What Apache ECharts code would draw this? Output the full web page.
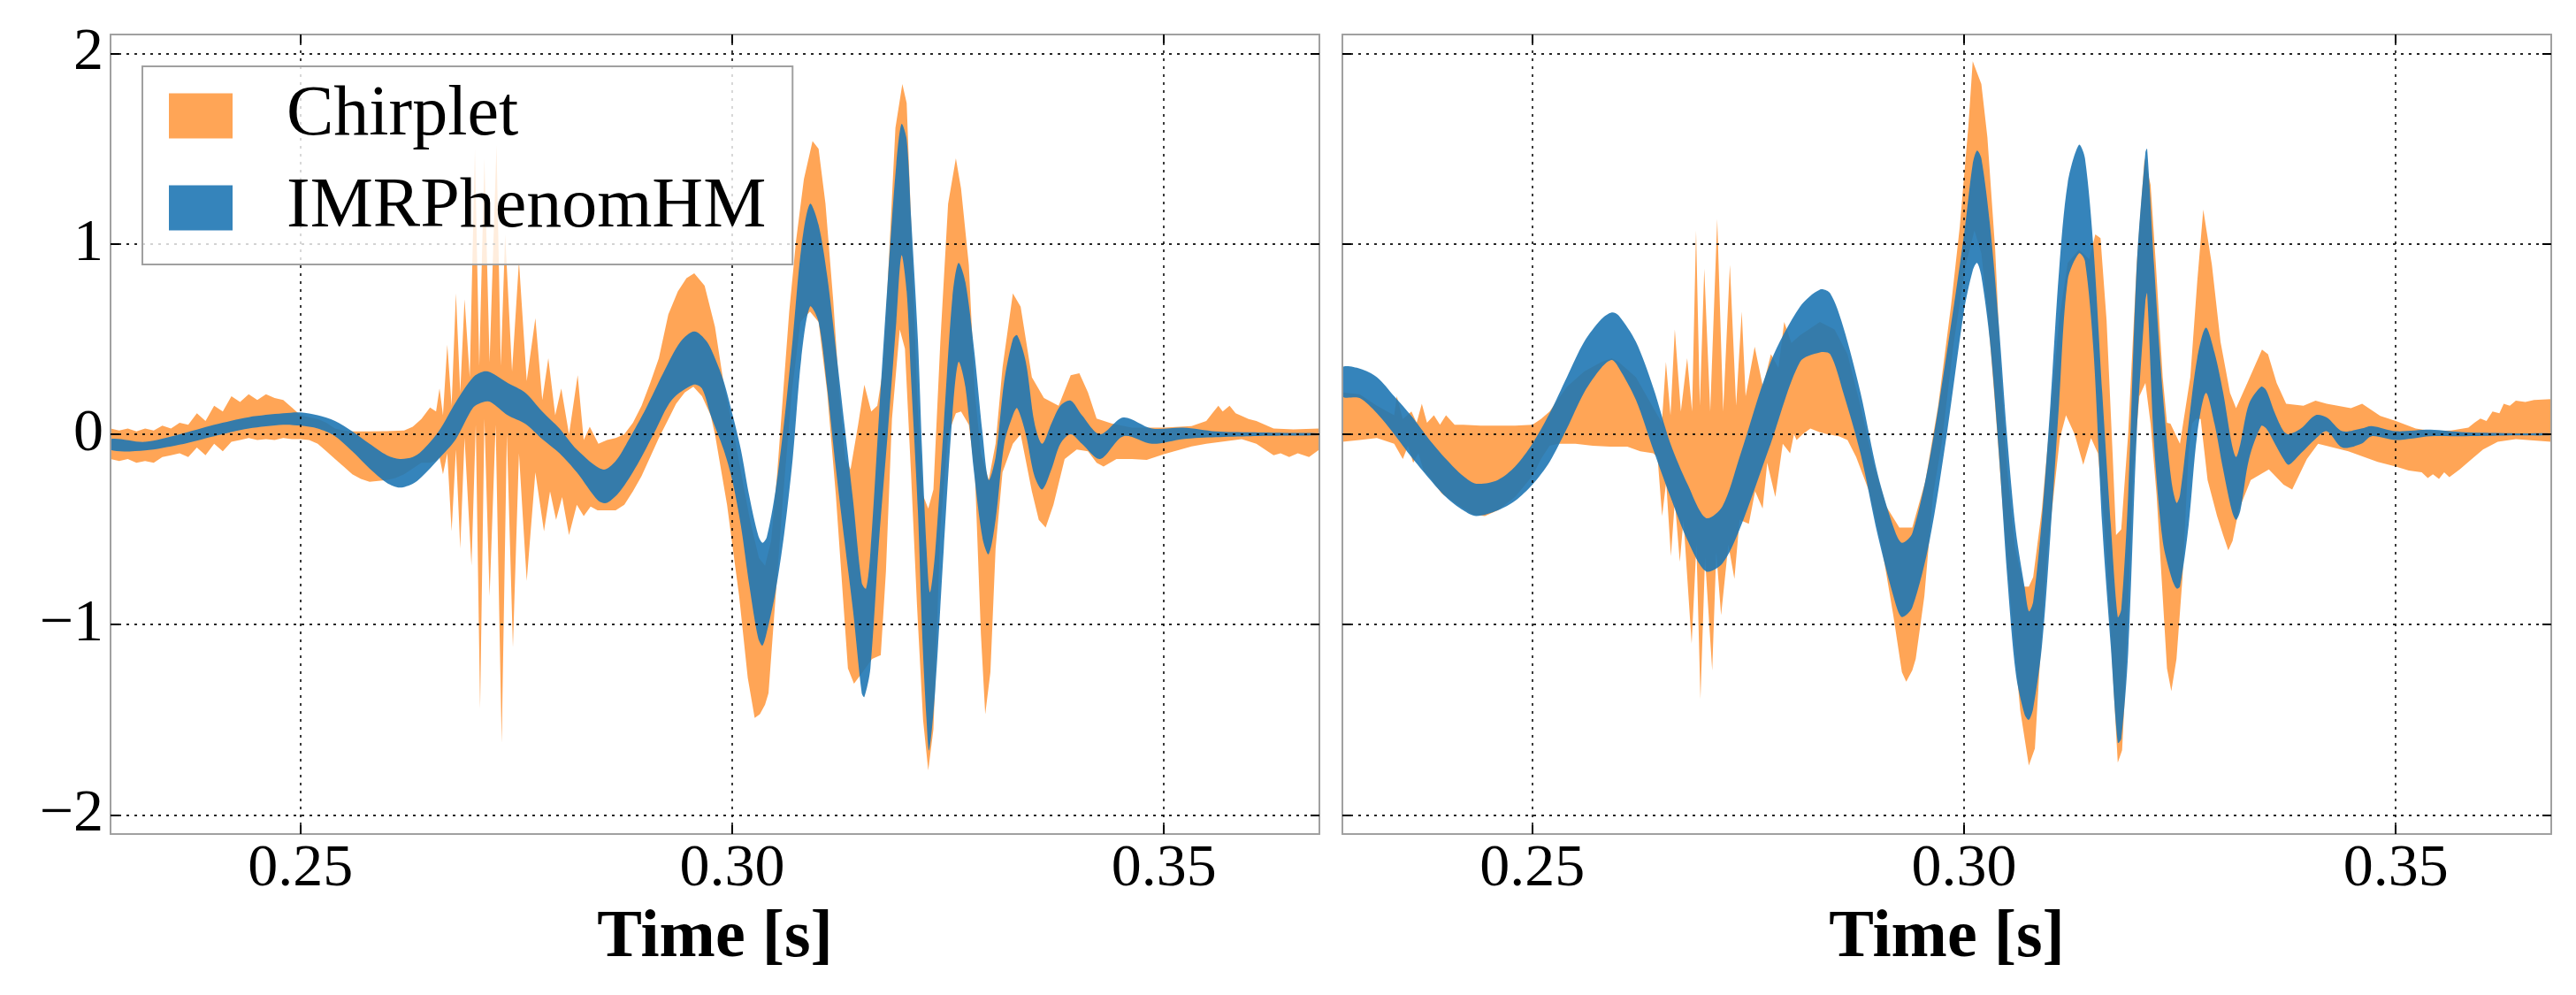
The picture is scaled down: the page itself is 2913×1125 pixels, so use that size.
<!DOCTYPE html>
<html><head><meta charset="utf-8">
<script src="https://cdn.jsdelivr.net/npm/echarts@6/dist/echarts.min.js"></script>
<style>html,body{margin:0;padding:0;background:#fff}#c{width:2913px;height:1125px}</style>
</head><body><div id="c"></div>
<script>
const seriesNames = ['Chirplet', 'IMRPhenomHM'];
const timeTicks = [0.25, 0.30, 0.35];
const ampTicks = [-2, -1, 0, 1, 2];
const timeRange = [0.228, 0.368];
const ampRange = [-2.1, 2.1];
const xTitle = 'Time [s]';

// ---------- Left panel ----------
const leftChirpUpper = [[0.228,0.03],[0.229,0.02],[0.230,0.03],[0.231,0.015],[0.232,0.03],[0.233,0.02],[0.234,0.045],[0.235,0.03],[0.236,0.06],[0.237,0.05],[0.238,0.11],[0.239,0.07],[0.240,0.15],[0.241,0.12],[0.242,0.20],[0.243,0.17],[0.244,0.21],[0.245,0.18],[0.246,0.21],[0.247,0.19],[0.248,0.18],[0.249,0.14],[0.250,0.10],[0.251,0.09],[0.252,0.08],[0.253,0.06],[0.254,0.03],[0.255,0.02],[0.256,0.015],[0.258,0.015],[0.260,0.016],[0.262,0.02],[0.263,0.04],[0.264,0.08],[0.265,0.14],[0.2657,0.12],[0.2661,0.24],[0.2665,0.10],[0.2670,0.47],[0.2675,0.15],[0.2680,0.74],[0.2685,0.22],[0.2690,0.71],[0.2696,0.30],[0.2702,1.50],[0.2707,0.36],[0.2713,1.45],[0.2719,0.38],[0.2727,1.52],[0.2732,0.36],[0.2737,1.05],[0.2745,0.33],[0.2753,0.91],[0.2762,0.28],[0.2772,0.61],[0.2780,0.18],[0.2787,0.40],[0.2795,0.10],[0.2802,0.24],[0.2811,0.0],[0.2821,0.31],[0.2828,-0.03],[0.2835,0.04],[0.2845,-0.05],[0.2855,-0.03],[0.2865,-0.02],[0.2875,0.0],[0.2885,0.06],[0.2895,0.15],[0.2905,0.27],[0.2915,0.40],[0.2926,0.63],[0.2937,0.75],[0.2947,0.82],[0.2956,0.846],[0.2968,0.78],[0.298,0.565],[0.299,0.27],[0.300,0.05],[0.3011,-0.22],[0.3021,-0.46],[0.3031,-0.65],[0.3038,-0.69],[0.3045,-0.56],[0.3052,-0.21],[0.3059,0.22],[0.3066,0.645],[0.3074,1.02],[0.3083,1.34],[0.3093,1.54],[0.3100,1.50],[0.3108,1.21],[0.3117,0.70],[0.3124,0.22],[0.3131,-0.13],[0.3137,-0.185],[0.3146,0.056],[0.3153,0.26],[0.3161,0.12],[0.3168,0.15],[0.3175,0.35],[0.3182,0.97],[0.3189,1.61],[0.3197,1.84],[0.3202,1.74],[0.3207,1.13],[0.3214,0.22],[0.3221,-0.32],[0.3227,-0.39],[0.3233,-0.29],[0.3241,0.485],[0.3250,1.21],[0.3259,1.45],[0.3265,1.29],[0.3274,0.89],[0.3281,0.22],[0.3288,-0.10],[0.3297,-0.24],[0.3305,-0.05],[0.3313,0.35],[0.3325,0.74],[0.3334,0.67],[0.3347,0.30],[0.3361,0.19],[0.3378,0.15],[0.3392,0.31],[0.3402,0.32],[0.3412,0.22],[0.3422,0.083],[0.344,0.056],[0.3463,0.035],[0.350,0.035],[0.3532,0.043],[0.3549,0.07],[0.3556,0.11],[0.3563,0.15],[0.3568,0.12],[0.3576,0.15],[0.3583,0.11],[0.359,0.096],[0.3598,0.08],[0.3607,0.07],[0.3627,0.03],[0.365,0.025],[0.368,0.03]];
const leftChirpLower = [[0.228,-0.13],[0.229,-0.14],[0.230,-0.13],[0.231,-0.15],[0.232,-0.14],[0.233,-0.15],[0.234,-0.12],[0.235,-0.11],[0.236,-0.10],[0.237,-0.12],[0.238,-0.07],[0.239,-0.11],[0.240,-0.05],[0.241,-0.09],[0.242,-0.04],[0.243,-0.03],[0.244,-0.02],[0.245,-0.03],[0.246,-0.025],[0.247,-0.03],[0.248,-0.02],[0.249,-0.025],[0.250,-0.025],[0.251,-0.03],[0.252,-0.05],[0.253,-0.09],[0.254,-0.13],[0.255,-0.17],[0.256,-0.21],[0.257,-0.235],[0.258,-0.25],[0.259,-0.245],[0.260,-0.24],[0.261,-0.23],[0.262,-0.21],[0.263,-0.18],[0.264,-0.15],[0.265,-0.15],[0.2657,-0.14],[0.2661,-0.12],[0.2665,-0.21],[0.2670,-0.10],[0.2675,-0.51],[0.2680,-0.08],[0.2685,-0.60],[0.2690,-0.02],[0.2698,-0.69],[0.2703,0.05],[0.2708,-1.44],[0.2713,0.08],[0.2719,-0.85],[0.2726,0.05],[0.2733,-1.62],[0.2739,0.0],[0.2746,-1.12],[0.2753,-0.10],[0.2762,-0.77],[0.2772,-0.20],[0.2782,-0.51],[0.2789,-0.30],[0.2796,-0.45],[0.2803,-0.33],[0.2811,-0.53],[0.2820,-0.37],[0.2828,-0.43],[0.2836,-0.38],[0.2844,-0.40],[0.2855,-0.40],[0.2865,-0.40],[0.2875,-0.37],[0.2885,-0.30],[0.2895,-0.22],[0.2905,-0.12],[0.2915,-0.02],[0.2925,0.07],[0.2935,0.16],[0.2945,0.22],[0.2955,0.25],[0.2965,0.20],[0.2975,0.10],[0.298,0.0],[0.2994,-0.37],[0.3008,-0.85],[0.3018,-1.28],[0.3026,-1.49],[0.3032,-1.47],[0.3038,-1.42],[0.3042,-1.36],[0.3048,-0.99],[0.3059,-0.32],[0.3069,0.22],[0.3079,0.59],[0.3090,0.645],[0.3100,0.59],[0.3110,0.22],[0.3120,-0.32],[0.3134,-1.23],[0.3141,-1.31],[0.3151,-1.25],[0.3162,-1.18],[0.3172,-1.16],[0.3178,-0.72],[0.3185,0.08],[0.3194,0.55],[0.3200,0.45],[0.3207,-0.20],[0.3214,-0.90],[0.3221,-1.50],[0.3227,-1.765],[0.3233,-1.55],[0.3241,-0.50],[0.3250,0.0],[0.3259,0.11],[0.3265,0.12],[0.3274,0.05],[0.3281,-0.20],[0.3288,-1.05],[0.3293,-1.47],[0.3299,-1.25],[0.3305,-0.60],[0.3313,-0.20],[0.3325,-0.05],[0.3334,0.0],[0.3347,-0.30],[0.3355,-0.45],[0.3363,-0.49],[0.3372,-0.37],[0.3385,-0.13],[0.3399,-0.08],[0.3412,-0.09],[0.3422,-0.15],[0.3430,-0.17],[0.3445,-0.13],[0.3463,-0.13],[0.348,-0.135],[0.350,-0.105],[0.3532,-0.064],[0.3549,-0.05],[0.359,-0.025],[0.3607,-0.05],[0.3620,-0.09],[0.3627,-0.11],[0.3635,-0.10],[0.3645,-0.12],[0.3655,-0.10],[0.3668,-0.12],[0.368,-0.08]];
const leftIMRUpper = [[0.228,-0.025],[0.232,-0.04],[0.236,0.0],[0.240,0.05],[0.244,0.09],[0.248,0.11],[0.250,0.115],[0.252,0.10],[0.254,0.07],[0.256,0.015],[0.258,-0.05],[0.260,-0.11],[0.2615,-0.13],[0.263,-0.12],[0.264,-0.09],[0.266,0.015],[0.268,0.17],[0.270,0.30],[0.2712,0.33],[0.272,0.325],[0.274,0.27],[0.276,0.22],[0.278,0.12],[0.280,0.03],[0.282,-0.08],[0.285,-0.185],[0.2865,-0.14],[0.288,-0.03],[0.290,0.135],[0.292,0.32],[0.294,0.485],[0.2956,0.54],[0.297,0.49],[0.298,0.40],[0.299,0.28],[0.300,0.11],[0.301,-0.08],[0.302,-0.33],[0.303,-0.53],[0.3035,-0.57],[0.304,-0.54],[0.305,-0.30],[0.306,0.06],[0.307,0.50],[0.308,0.98],[0.309,1.21],[0.310,1.10],[0.311,0.83],[0.312,0.45],[0.313,0.05],[0.314,-0.35],[0.315,-0.78],[0.3155,-0.81],[0.316,-0.62],[0.317,0.10],[0.318,0.80],[0.319,1.42],[0.3196,1.63],[0.3202,1.55],[0.3207,1.15],[0.3215,0.50],[0.322,-0.10],[0.3225,-0.60],[0.3229,-0.83],[0.3235,-0.62],[0.3245,0.05],[0.3255,0.72],[0.3262,0.90],[0.327,0.80],[0.328,0.45],[0.329,0.0],[0.3297,-0.24],[0.3305,-0.12],[0.3315,0.28],[0.3325,0.50],[0.333,0.52],[0.334,0.38],[0.335,0.06],[0.3359,-0.05],[0.337,0.06],[0.338,0.15],[0.3392,0.177],[0.3405,0.10],[0.3426,0.0],[0.3453,0.088],[0.3486,0.03],[0.3522,0.035],[0.356,0.015],[0.360,0.01],[0.364,0.007],[0.368,0.005]];
const leftIMRLower = [[0.228,-0.083],[0.232,-0.085],[0.236,-0.055],[0.240,-0.01],[0.244,0.03],[0.248,0.05],[0.250,0.045],[0.252,0.03],[0.254,-0.01],[0.256,-0.09],[0.258,-0.18],[0.260,-0.255],[0.2615,-0.28],[0.263,-0.26],[0.264,-0.225],[0.266,-0.13],[0.268,-0.025],[0.270,0.14],[0.2712,0.17],[0.272,0.17],[0.274,0.10],[0.276,0.056],[0.278,-0.025],[0.280,-0.10],[0.282,-0.20],[0.2845,-0.35],[0.2855,-0.36],[0.287,-0.30],[0.289,-0.16],[0.291,0.01],[0.293,0.18],[0.2955,0.26],[0.2965,0.24],[0.2975,0.10],[0.299,-0.08],[0.300,-0.24],[0.301,-0.48],[0.302,-0.80],[0.303,-1.07],[0.3035,-1.11],[0.304,-1.04],[0.305,-0.83],[0.306,-0.53],[0.307,-0.13],[0.308,0.40],[0.309,0.67],[0.310,0.59],[0.311,0.24],[0.312,-0.18],[0.313,-0.56],[0.314,-0.93],[0.315,-1.36],[0.3153,-1.38],[0.316,-1.23],[0.317,-0.56],[0.318,0.0],[0.319,0.59],[0.3196,0.94],[0.3202,0.75],[0.3207,0.30],[0.3215,-0.40],[0.322,-1.05],[0.3225,-1.50],[0.3228,-1.66],[0.3235,-1.35],[0.3245,-0.60],[0.3255,0.10],[0.3262,0.38],[0.327,0.25],[0.328,-0.20],[0.329,-0.55],[0.3297,-0.63],[0.3305,-0.45],[0.3315,-0.05],[0.3325,0.10],[0.333,0.137],[0.334,0.0],[0.335,-0.22],[0.3359,-0.29],[0.337,-0.18],[0.338,-0.05],[0.3392,0.0],[0.3405,-0.05],[0.3426,-0.13],[0.3453,-0.01],[0.3486,-0.05],[0.3522,-0.025],[0.356,-0.015],[0.360,-0.01],[0.364,-0.007],[0.368,-0.005]];

// ---------- Right panel ----------
const rightChirpUpper = [[0.228,0.22],[0.230,0.21],[0.232,0.15],[0.234,0.10],[0.2343,0.20],[0.2350,0.08],[0.2360,0.12],[0.2366,0.06],[0.2372,0.16],[0.2378,0.06],[0.2386,0.10],[0.2393,0.05],[0.2400,0.10],[0.2410,0.05],[0.2420,0.05],[0.2440,0.045],[0.2460,0.045],[0.2480,0.045],[0.2500,0.05],[0.2510,0.08],[0.2520,0.12],[0.2540,0.25],[0.2560,0.33],[0.2580,0.38],[0.2592,0.40],[0.2600,0.38],[0.2620,0.30],[0.2635,0.18],[0.2645,0.10],[0.2650,0.06],[0.26547,0.38],[0.2660,0.10],[0.2665,0.55],[0.2672,0.12],[0.26793,0.40],[0.2685,0.12],[0.26896,1.07],[0.2694,0.15],[0.26991,0.87],[0.2706,0.12],[0.27141,1.13],[0.2721,0.12],[0.27288,0.89],[0.2736,0.15],[0.27425,0.645],[0.2747,0.20],[0.27575,0.46],[0.2767,0.25],[0.27763,0.42],[0.2785,0.35],[0.27917,0.59],[0.2800,0.48],[0.2810,0.52],[0.2820,0.55],[0.2833,0.59],[0.2850,0.55],[0.2865,0.42],[0.2880,0.15],[0.2895,-0.15],[0.2910,-0.38],[0.2925,-0.49],[0.2940,-0.49],[0.2955,-0.25],[0.2970,0.15],[0.2985,0.68],[0.2995,1.09],[0.3005,1.62],[0.3010,1.96],[0.3020,1.84],[0.3027,1.56],[0.3036,0.97],[0.3042,0.38],[0.3050,-0.19],[0.3059,-0.59],[0.3069,-0.80],[0.3075,-0.80],[0.3080,-0.75],[0.3090,-0.40],[0.3100,0.10],[0.3110,0.60],[0.3120,0.90],[0.3133,0.97],[0.3145,0.92],[0.3152,1.05],[0.3158,1.03],[0.3165,0.60],[0.3172,-0.10],[0.3176,-0.53],[0.3182,-0.50],[0.3190,0.0],[0.3200,0.90],[0.3209,1.45],[0.3216,1.31],[0.3222,0.90],[0.3230,0.30],[0.3235,0.06],[0.3239,0.056],[0.3250,-0.05],[0.3262,0.30],[0.3270,0.80],[0.3277,1.18],[0.3287,0.89],[0.3297,0.485],[0.3308,0.217],[0.3315,0.137],[0.3328,0.27],[0.3345,0.445],[0.3352,0.42],[0.3362,0.27],[0.3373,0.16],[0.3393,0.15],[0.3407,0.177],[0.3420,0.16],[0.3448,0.137],[0.3461,0.16],[0.3482,0.096],[0.3500,0.07],[0.3523,0.03],[0.3543,0.016],[0.3564,0.02],[0.3584,0.035],[0.3591,0.06],[0.3598,0.083],[0.3605,0.07],[0.3612,0.12],[0.3620,0.11],[0.3625,0.16],[0.3632,0.15],[0.3639,0.177],[0.3650,0.17],[0.3660,0.18],[0.368,0.185]];
const rightChirpLower = [[0.228,-0.04],[0.230,-0.03],[0.232,-0.02],[0.234,-0.05],[0.2350,-0.13],[0.2356,-0.06],[0.2362,-0.15],[0.2368,-0.10],[0.2374,-0.19],[0.2380,-0.22],[0.2395,-0.31],[0.2410,-0.36],[0.2430,-0.42],[0.2445,-0.43],[0.2460,-0.40],[0.2480,-0.33],[0.2500,-0.22],[0.2510,-0.13],[0.2520,-0.06],[0.2530,-0.05],[0.2550,-0.05],[0.2570,-0.06],[0.2590,-0.065],[0.2610,-0.065],[0.2625,-0.09],[0.2640,-0.10],[0.2645,-0.12],[0.26503,-0.43],[0.2655,-0.25],[0.26605,-0.64],[0.2665,-0.35],[0.26708,-0.67],[0.2675,-0.45],[0.26845,-1.10],[0.2690,-0.58],[0.26947,-1.39],[0.2700,-0.65],[0.27083,-1.24],[0.2713,-0.62],[0.27186,-0.95],[0.2727,-0.58],[0.2734,-0.76],[0.2740,-0.45],[0.27507,-0.47],[0.2758,-0.30],[0.27667,-0.39],[0.2772,-0.15],[0.27814,-0.33],[0.2790,-0.05],[0.27985,-0.10],[0.2803,0.0],[0.2806,-0.03],[0.2813,0.0],[0.2822,0.03],[0.2833,0.01],[0.2842,0.0],[0.2855,-0.01],[0.2865,-0.03],[0.2875,-0.12],[0.2890,-0.30],[0.2905,-0.60],[0.2918,-0.95],[0.2928,-1.25],[0.2933,-1.30],[0.2940,-1.24],[0.2944,-1.18],[0.2954,-0.85],[0.2964,-0.32],[0.2974,-0.05],[0.2988,0.48],[0.3002,0.89],[0.3012,1.07],[0.3020,0.95],[0.3028,0.60],[0.3036,0.15],[0.3045,-0.40],[0.3055,-0.95],[0.3065,-1.45],[0.3075,-1.74],[0.3082,-1.65],[0.3087,-1.26],[0.3097,-0.59],[0.3111,-0.02],[0.3118,0.10],[0.3128,0.0],[0.3138,-0.16],[0.3147,-0.02],[0.3155,-0.10],[0.3162,-0.45],[0.3169,-0.99],[0.3178,-1.725],[0.3183,-1.66],[0.3186,-1.39],[0.3196,-0.185],[0.3203,0.20],[0.3210,0.27],[0.3216,0.056],[0.3223,-0.32],[0.3230,-0.85],[0.3235,-1.23],[0.3240,-1.35],[0.3246,-1.18],[0.3253,-0.75],[0.3260,-0.10],[0.3264,0.056],[0.3269,0.083],[0.3274,0.08],[0.3282,-0.24],[0.3293,-0.43],[0.3300,-0.53],[0.3306,-0.61],[0.3311,-0.56],[0.3318,-0.40],[0.3332,-0.24],[0.3353,-0.185],[0.3370,-0.265],[0.3380,-0.29],[0.3397,-0.13],[0.3410,-0.05],[0.3445,-0.09],[0.3479,-0.145],[0.3500,-0.17],[0.3515,-0.19],[0.3530,-0.20],[0.3537,-0.23],[0.3543,-0.21],[0.3550,-0.235],[0.3556,-0.20],[0.3562,-0.225],[0.3574,-0.185],[0.3588,-0.13],[0.3601,-0.08],[0.3618,-0.04],[0.3639,-0.025],[0.368,-0.04]];
const rightIMRUpper = [[0.228,0.35],[0.230,0.345],[0.232,0.30],[0.234,0.20],[0.236,0.096],[0.238,-0.024],[0.240,-0.13],[0.242,-0.22],[0.2435,-0.26],[0.246,-0.24],[0.248,-0.17],[0.250,-0.05],[0.252,0.11],[0.254,0.30],[0.256,0.485],[0.258,0.605],[0.2592,0.64],[0.260,0.624],[0.262,0.485],[0.264,0.245],[0.266,-0.05],[0.268,-0.265],[0.2701,-0.44],[0.272,-0.38],[0.274,-0.12],[0.2776,0.38],[0.281,0.67],[0.2833,0.76],[0.2845,0.74],[0.286,0.565],[0.288,0.22],[0.290,-0.21],[0.292,-0.51],[0.2928,-0.57],[0.294,-0.52],[0.296,-0.13],[0.298,0.43],[0.300,1.05],[0.301,1.42],[0.3015,1.49],[0.302,1.45],[0.303,1.10],[0.304,0.59],[0.305,-0.02],[0.306,-0.51],[0.307,-0.80],[0.3075,-0.93],[0.308,-0.88],[0.309,-0.45],[0.310,0.16],[0.311,0.86],[0.312,1.32],[0.3133,1.52],[0.314,1.45],[0.315,0.97],[0.316,0.22],[0.317,-0.48],[0.3178,-0.96],[0.3182,-0.92],[0.319,-0.32],[0.320,0.89],[0.321,1.48],[0.3212,1.50],[0.322,0.89],[0.323,0.22],[0.324,-0.24],[0.3246,-0.36],[0.325,-0.32],[0.326,0.056],[0.327,0.40],[0.328,0.56],[0.329,0.43],[0.330,0.22],[0.331,-0.05],[0.3315,-0.12],[0.332,-0.05],[0.333,0.16],[0.3344,0.25],[0.335,0.23],[0.336,0.11],[0.337,0.016],[0.3376,0.0],[0.339,0.03],[0.3407,0.10],[0.342,0.088],[0.3438,0.016],[0.346,0.03],[0.3472,0.043],[0.350,0.016],[0.354,0.024],[0.358,0.01],[0.364,0.005],[0.368,0.005]];
const rightIMRLower = [[0.228,0.20],[0.230,0.19],[0.232,0.11],[0.234,0.0],[0.236,-0.12],[0.238,-0.23],[0.240,-0.33],[0.242,-0.40],[0.2435,-0.43],[0.246,-0.40],[0.248,-0.35],[0.250,-0.265],[0.252,-0.145],[0.254,0.03],[0.256,0.22],[0.258,0.35],[0.2592,0.39],[0.260,0.35],[0.262,0.18],[0.264,-0.08],[0.266,-0.33],[0.268,-0.56],[0.2701,-0.72],[0.272,-0.68],[0.274,-0.50],[0.2776,-0.05],[0.281,0.38],[0.2833,0.43],[0.2845,0.42],[0.286,0.22],[0.288,-0.10],[0.290,-0.53],[0.292,-0.88],[0.2928,-0.96],[0.294,-0.91],[0.296,-0.56],[0.298,0.0],[0.300,0.65],[0.301,0.86],[0.3015,0.90],[0.302,0.83],[0.303,0.485],[0.304,-0.08],[0.305,-0.75],[0.306,-1.26],[0.307,-1.47],[0.3075,-1.50],[0.308,-1.44],[0.309,-1.12],[0.310,-0.53],[0.311,0.16],[0.312,0.81],[0.3133,0.95],[0.314,0.91],[0.315,0.43],[0.316,-0.48],[0.317,-1.12],[0.3178,-1.62],[0.3182,-1.60],[0.319,-1.15],[0.320,0.0],[0.321,0.70],[0.3212,0.74],[0.322,-0.05],[0.323,-0.56],[0.324,-0.75],[0.3246,-0.81],[0.325,-0.80],[0.326,-0.48],[0.327,0.0],[0.328,0.217],[0.329,0.056],[0.330,-0.185],[0.331,-0.40],[0.3315,-0.45],[0.332,-0.40],[0.333,-0.13],[0.3344,0.043],[0.335,0.03],[0.336,-0.05],[0.337,-0.13],[0.3376,-0.16],[0.339,-0.10],[0.3407,-0.024],[0.342,0.016],[0.3438,-0.07],[0.346,-0.05],[0.3472,-0.01],[0.350,-0.03],[0.354,-0.01],[0.358,-0.01],[0.364,-0.006],[0.368,-0.005]];

const FONT = 'Liberation Serif';
const ORANGE = 'rgba(255,127,14,0.7)';
const BLUE = 'rgba(31,119,180,0.9)';
const FRAME = '#a0a0a0';

function band(name, upper, lower, color, idx, smooth) {
  const ring = upper.concat(lower.slice().reverse());
  return {
    type: 'custom', name: name, xAxisIndex: idx, yAxisIndex: idx,
    data: ring, encode: { x: 0, y: 1 }, clip: true, silent: true, z: 2,
    itemStyle: { color: color },
    renderItem: function (params, api) {
      if (params.dataIndex !== 0) return null;
      return {
        type: 'polygon',
        shape: { points: ring.map(function (p) { return api.coord(p); }), smooth: smooth },
        style: { fill: color }
      };
    }
  };
}

const gridLine = { color: 'rgba(0,0,0,0.85)', width: 1.8, type: [3, 6] };
const tickStyle = { color: '#000', width: 2 };

function xAxisDef(gi, pos, main) {
  return {
    type: 'value', gridIndex: gi, position: pos, min: timeRange[0], max: timeRange[1], z: 5,
    axisLine: { show: true, onZero: false, lineStyle: { color: FRAME, width: 2 } },
    axisTick: { show: true, inside: true, length: 10, lineStyle: tickStyle, customValues: timeTicks },
    axisLabel: { show: main, customValues: timeTicks, formatter: function (v) { return v.toFixed(2); },
      fontFamily: FONT, fontSize: 68, color: '#000', margin: 6 },
    splitLine: { show: main, lineStyle: gridLine },
    name: main ? xTitle : '', nameLocation: 'middle', nameGap: 80,
    nameTextStyle: { fontFamily: FONT, fontSize: 76, fontWeight: 'bold', color: '#000' }
  };
}
function yAxisDef(gi, pos, main, labels) {
  return {
    type: 'value', gridIndex: gi, position: pos, min: ampRange[0], max: ampRange[1], z: 5,
    axisLine: { show: true, onZero: false, lineStyle: { color: FRAME, width: 2 } },
    axisTick: { show: true, inside: true, length: 10, lineStyle: tickStyle, customValues: ampTicks },
    axisLabel: { show: labels, customValues: ampTicks,
      formatter: function (v) { return v < 0 ? '\u2212' + (-v) : String(v); },
      fontFamily: FONT, fontSize: 68, color: '#000', margin: 8 },
    splitLine: { show: main, lineStyle: gridLine }
  };
}

const option = {
  animation: false,
  backgroundColor: '#fff',
  grid: [
    { left: 125, top: 39, width: 1367, height: 904 },
    { left: 1518, top: 39, width: 1367, height: 904 }
  ],
  xAxis: [xAxisDef(0, 'bottom', true), xAxisDef(1, 'bottom', true), xAxisDef(0, 'top', false), xAxisDef(1, 'top', false)],
  yAxis: [yAxisDef(0, 'left', true, true), yAxisDef(1, 'left', true, false), yAxisDef(0, 'right', false, false), yAxisDef(1, 'right', false, false)],
  legend: {
    data: seriesNames.map(function (n) { return { name: n, icon: 'rect' }; }),
    orient: 'vertical', left: 161, top: 75,
    itemWidth: 72, itemHeight: 51, itemGap: 24,
    padding: [16, 30, 24, 30],
    backgroundColor: 'rgba(255,255,255,0.8)', borderColor: FRAME, borderWidth: 2, borderRadius: 0,
    textStyle: { fontFamily: FONT, fontSize: 80, color: '#000', padding: [0, 0, 0, 56] },
    selectedMode: false, z: 10
  },
  series: [
    band(seriesNames[0], leftChirpUpper, leftChirpLower, ORANGE, 0, 0),
    band(seriesNames[1], leftIMRUpper, leftIMRLower, BLUE, 0, 0.3),
    band(seriesNames[0], rightChirpUpper, rightChirpLower, ORANGE, 1, 0),
    band(seriesNames[1], rightIMRUpper, rightIMRLower, BLUE, 1, 0.3)
  ]
};
const chart = echarts.init(document.getElementById('c'), null, { renderer: 'canvas' });
chart.setOption(option);
</script>
</body></html>
